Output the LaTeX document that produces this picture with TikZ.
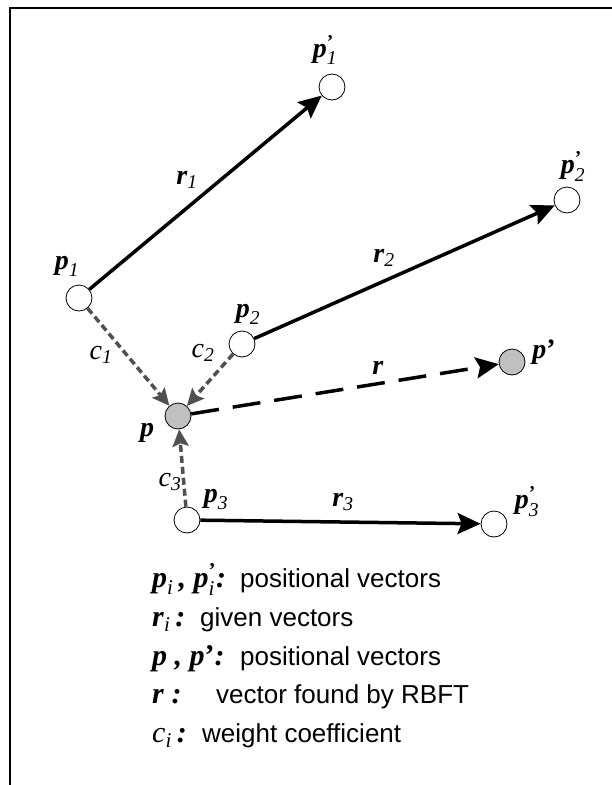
\documentclass[tikz,border=0pt]{standalone}
\usepackage{fontspec}
\usepackage{amsmath}
\setmainfont{Liberation Serif}
\setsansfont{Liberation Sans}
\usetikzlibrary{arrows.meta,calc}
\definecolor{pointgray}{RGB}{192,192,192}
\definecolor{weightgray}{RGB}{80,80,80}
\newcommand{\vb}[1]{\textbf{\textit{#1}}}
\newcommand{\vlab}[2]{$\text{\vb{#1}}_{\text{\textit{#2}}}$}
\newcommand{\vlabp}[2]{$\text{\vb{#1}}^{\text{\textbf{’}}}_{\text{\textit{#2}}}$}
\newcommand{\wlab}[1]{$\text{\textit{c}}_{\text{\textit{#1}}}$}
\tikzset{
  pnt/.style={
    circle,
    draw,
    line width=0.8pt,
    minimum size=26pt,
    inner sep=0pt,
    fill=white
  },
  pnt gray/.style={
    pnt,
    fill=pointgray
  },
  vec/.style={
    line width=3.5pt,
    -{Stealth[length=23pt,width=21pt,inset=4pt]}
  },
  found/.style={
    vec,
    dash pattern=on 28pt off 14pt
  },
  weight/.style={
    draw=weightgray,
    line width=3.5pt,
    dash pattern=on 7pt off 4pt,
    -{Stealth[length=17pt,width=16pt,inset=3pt,fill=weightgray]}
  },
  lbl/.style={
    font=\fontsize{28}{32}\selectfont,
    inner sep=0pt
  },
  key/.style={
    font=\fontsize{30}{34}\selectfont,
    anchor=base west,
    inner sep=0pt
  },
  desc/.style={
    font=\sffamily\fontsize{26}{30}\selectfont,
    anchor=base west,
    inner sep=0pt
  }
}
\begin{document}
\begin{tikzpicture}[x=1pt,y=-1pt]
  \useasboundingbox (0,0) rectangle (612,785);

  % Frame
  \draw[line width=1.5pt] (10,785) -- (10,8) -- (612,8);

  % Points
  \node[pnt] (p1) at (79,298) {};
  \node[pnt] (p1p) at (332,87) {};
  \node[pnt] (p2) at (242,344) {};
  \node[pnt] (p2p) at (567,200) {};
  \node[pnt] (p3) at (187,520) {};
  \node[pnt] (p3p) at (494,524) {};
  \node[pnt gray] (p) at (178,416) {};
  \node[pnt gray] (pp) at (512,362) {};

  % Given vectors
  \draw[vec] (p1) -- (p1p);
  \draw[vec] (p2) -- (p2p);
  \draw[vec] (p3) -- (p3p);

  % Found vector
  \draw[found] (p) -- (pp);

  % Weights
  \draw[weight] (p1) -- (p);
  \draw[weight] (p2) -- (p);
  \draw[weight] (p3) -- (p);

  % Labels
  \node[lbl] (p1plab) at (325,50) {\vlabp{p}{1}};
  \node[lbl] (r1lab) at (187,180) {\vlab{r}{1}};
  \node[lbl] (p1lab) at (67,266) {\vlab{p}{1}};
  \node[lbl] (r2lab) at (384,258) {\vlab{r}{2}};
  \node[lbl] (p2plab) at (573,166) {\vlabp{p}{2}};
  \node[lbl] (p2lab) at (248,314) {\vlab{p}{2}};
  \node[lbl] (c1lab) at (101,355) {\wlab{1}};
  \node[lbl] (c2lab) at (203,353) {\wlab{2}};
  \node[lbl] (rlab) at (378,368) {\vb{r}};
  \node[lbl] (pplab) at (544,352) {\vb{p}\textbf{’}};
  \node[lbl] (plab) at (147,433) {\vb{p}};
  \node[lbl] (c3lab) at (170,482) {\wlab{3}};
  \node[lbl] (p3lab) at (216,499) {\vlab{p}{3}};
  \node[lbl] (r3lab) at (343,502) {\vlab{r}{3}};
  \node[lbl] (p3plab) at (527,502) {\vlabp{p}{3}};

  % Legend
  \node[key] (key1) at (152,587) {\vlab{p}{i}\,\vb{,} \vlabp{p}{i}\vb{:}};
  \node[desc] (desc1) at (240,587) {positional vectors};
  \node[key] (key2) at (152,626) {\vlab{r}{i}\,\vb{:}};
  \node[desc] (desc2) at (200,626) {given vectors};
  \node[key] (key3) at (152,665) {\vb{p} \vb{,} \vb{p}\textbf{’}\vb{:}};
  \node[desc] (desc3) at (240,665) {positional vectors};
  \node[key] (key4) at (152,703) {\vb{r} \vb{:}};
  \node[desc] (desc4) at (216,703) {vector found by RBFT};
  \node[key] (key5) at (152,742) {\wlab{i}\,\vb{:}};
  \node[desc] (desc5) at (202,742) {weight coefficient};
\end{tikzpicture}
\end{document}
